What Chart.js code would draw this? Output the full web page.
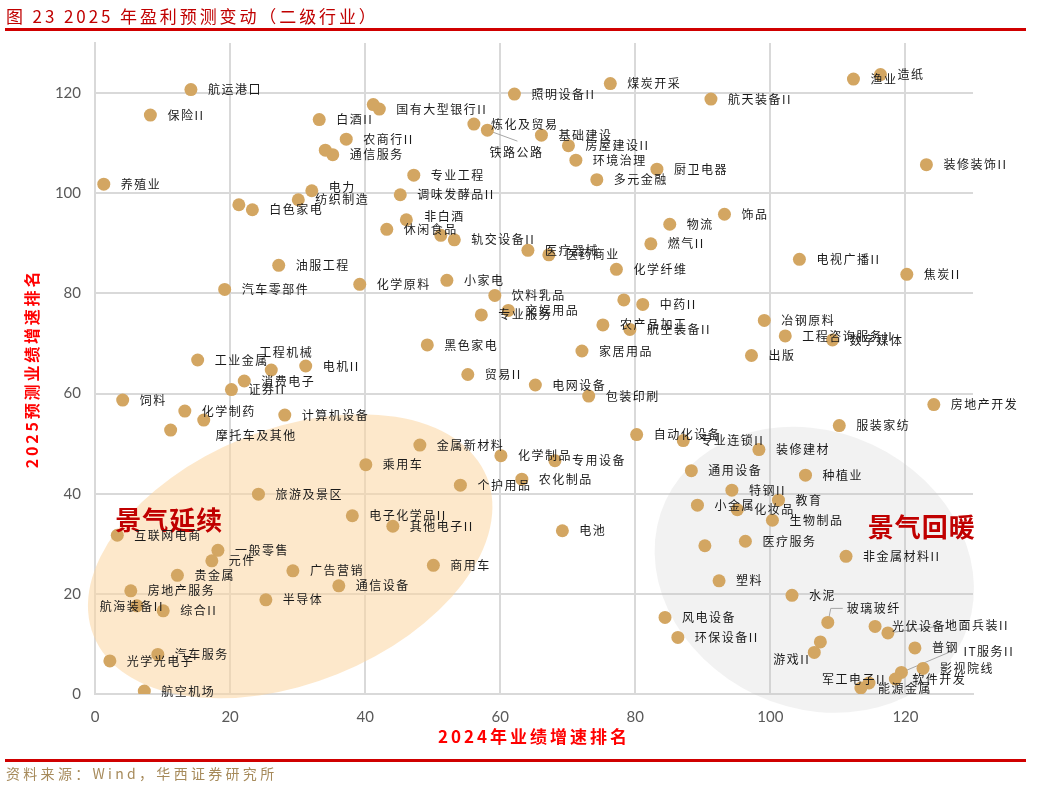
<!DOCTYPE html>
<html>
<head>
<meta charset="utf-8">
<script src="https://cdn.jsdelivr.net/npm/chart.js@4.4.1/dist/chart.umd.min.js"></script>
<style>
  html, body { margin: 0; padding: 0; background: #fff; }
  #wrap { position: relative; width: 1053px; height: 789px; overflow: hidden; }
  #grafico { position: absolute; left: 0; top: 0; }
  .titulo { position: absolute; left: 6px; top: 3px; font: 17px "Noto Sans CJK SC"; color: #c00000; letter-spacing: 2.9px; white-space: nowrap; }
  .linha { position: absolute; left: 5px; width: 1021px; height: 3px; background: #d00000; }
  .fonte { position: absolute; left: 6px; top: 763px; font: 14px "Noto Sans CJK SC"; color: #a68a5a; letter-spacing: 3.3px; white-space: nowrap; }
</style>
</head>
<body>
<div id="wrap">
  <canvas id="grafico" width="1053" height="789"></canvas>
  <div class="titulo">图 23 2025 年盈利预测变动（二级行业）</div>
  <div class="linha" style="top:28px"></div>
  <div class="linha" style="top:759px"></div>
  <div class="fonte">资料来源：Wind，华西证券研究所</div>
</div>
<script>
// nomes dos setores (vazio = ponto sem rotulo)
const industries = [
  "航运港口","保险II","养殖业","白酒II","国有大型银行II","","农商行II","通信服务","",
  "专业工程","电力","纺织制造","白色家电","","调味发酵品II","非白酒","休闲食品",
  "炼化及贸易","铁路公路","照明设备II","煤炭开采","航天装备II","渔业","造纸",
  "基础建设","房屋建设II","环境治理","厨卫电器","多元金融","装修装饰II",
  "饰品","物流","燃气II","医疗器械","医药商业","电视广播II","焦炭II","轨交设备II","",
  "油服工程","汽车零部件","化学原料","小家电","饮料乳品","专业服务","文娱用品",
  "化学纤维","","中药II","农产品加工","航空装备II","家居用品","冶钢原料",
  "工程咨询服务II","数字媒体","出版","黑色家电","工业金属","工程机械","电机II",
  "消费电子","证券II","贸易II","电网设备","包装印刷","饲料","化学制药","摩托车及其他","",
  "计算机设备","房地产开发","服装家纺","自动化设备","专业连锁II","装修建材",
  "金属新材料","乘用车","化学制品","专用设备","个护用品","农化制品","通用设备",
  "种植业","特钢II","教育","小金属","化妆品","生物制品","旅游及景区","电子化学品II",
  "其他电子II","电池","互联网电商","","医疗服务","非金属材料II","一般零售","元件",
  "广告营销","商用车","贵金属","通信设备","房地产服务","半导体","塑料","水泥",
  "航海装备II","综合II","风电设备","环保设备II","玻璃玻纤","","游戏II","光伏设备",
  "地面兵装II","普钢","IT服务II","影视院线","软件开发","军工电子II","能源金属",
  "光学光电子","汽车服务","航空机场"
];

// 2024年业绩增速排名
const rank2024 = [
  14.2, 8.2, 1.3, 33.2, 42.1, 41.2, 37.2, 35.2, 34.1,
  47.2, 32.1, 30.1, 23.3, 21.3, 45.2, 46.1, 43.2,
  56.1, 58.1, 62.1, 76.3, 91.2, 112.3, 116.3,
  66.1, 70.1, 71.2, 83.2, 74.3, 123.1,
  93.2, 85.1, 82.3, 64.1, 67.2, 104.3, 120.2, 53.2, 51.2,
  27.2, 19.2, 39.2, 52.1, 59.2, 57.2, 61.2,
  77.2, 78.3, 81.1, 75.2, 79.2, 72.1, 99.1,
  102.2, 109.2, 97.2, 49.2, 15.2, 26.1, 31.2,
  22.1, 20.2, 55.2, 65.2, 73.1, 4.1, 13.3, 16.1, 11.2,
  28.1, 124.2, 110.2, 80.2, 87.1, 98.3,
  48.1, 40.1, 60.1, 68.1, 54.1, 63.2, 88.3,
  105.2, 94.3, 101.2, 89.2, 95.1, 100.3, 24.2, 38.1,
  44.1, 69.2, 3.3, 90.3, 96.3, 111.2, 18.2, 17.3,
  29.3, 50.1, 12.2, 36.1, 5.3, 25.3, 92.4, 103.2,
  6.2, 10.1, 84.4, 86.3, 108.5, 107.4, 106.5, 115.5,
  117.4, 121.4, 119.4, 122.6, 118.5, 114.6, 113.4,
  2.2, 9.3, 7.3
];

// 2025预测业绩增速排名
const rank2025 = [
  120.7, 115.6, 101.8, 114.7, 116.8, 117.7, 110.8, 107.7, 108.6,
  103.6, 100.5, 98.7, 96.7, 97.7, 99.7, 94.7, 92.8,
  113.8, 112.6, 119.8, 121.9, 118.8, 122.8, 123.7,
  111.6, 109.5, 106.6, 104.8, 102.7, 105.7,
  95.8, 93.8, 89.9, 88.6, 87.7, 86.8, 83.8, 90.7, 91.6,
  85.6, 80.8, 81.8, 82.6, 79.6, 75.7, 76.6,
  84.8, 78.7, 77.8, 73.7, 72.8, 68.5, 74.6,
  71.5, 70.7, 67.6, 69.7, 66.7, 64.7, 65.5,
  62.5, 60.8, 63.8, 61.7, 59.5, 58.7, 56.5, 54.7, 52.7,
  55.7, 57.8, 53.6, 51.8, 50.6, 48.8,
  49.7, 45.8, 47.6, 46.6, 41.7, 42.9, 44.6,
  43.7, 40.7, 38.7, 37.7, 36.8, 34.7, 39.9, 35.6,
  33.5, 32.6, 31.7, 29.6, 30.5, 27.5, 28.7, 26.6,
  24.6, 25.7, 23.7, 21.6, 20.6, 18.8, 22.6, 19.7,
  17.6, 16.6, 15.3, 11.3, 14.3, 10.4, 8.3, 13.5,
  12.2, 9.2, 4.3, 5.1, 3.0, 2.2, 1.2,
  6.6, 7.9, 0.6
];

const xTicks = [0, 20, 40, 60, 80, 100, 120];
const yTicks = [0, 20, 40, 60, 80, 100, 120];

// rotulos fora do padrao (deslocamento em px a partir do ponto)
const ajustes = {
  "铁路公路": { dx: 2, dy: 22, guia: [[30, 11]] },
  "工程机械": { dx: -12, dy: -18 },
  "摩托车及其他": { dx: 12, dy: 15 },
  "玻璃玻纤": { dx: 19, dy: -14, guia: [[1, -4], [3, -14], [15, -14]] },
  "地面兵装II": { dx: 57, dy: -7, guia: [[55, -7]] },
  "IT服务II": { dx: 62, dy: -21, guia: [[52, -22]] },
  "军工电子II": { dx: -47, dy: -4 },
  "游戏II": { dx: -41, dy: 7 },
  "航海装备II": { dx: -37, dy: 1 },
  "非白酒": { dx: 18, dy: -3 },
  "电力": { dx: 17, dy: -3 }
};

// areas destacadas
const zonas = [
  { cx: 28.9, cy: 27.5, rx: 212, ry: 127, rot: -22, cor: "rgba(251,214,160,0.55)" },
  { cx: 106.5, cy: 24.8, rx: 164, ry: 138, rot: 25, cor: "rgba(200,200,200,0.23)" }
];

const textosZona = [
  { texto: "景气延续", x: 3.0, y: 34.7 },
  { texto: "景气回暖", x: 114.4, y: 33.3 }
];

const fonteCJK = '"Noto Sans CJK SC"';

const pontos = rank2024.map((x, i) => ({ x: x, y: rank2025[i] }));

const pluginZonas = {
  id: "zonas",
  beforeDatasetsDraw(chart){
    const { ctx, scales } = chart;
    ctx.save();
    zonas.forEach(z => {
      ctx.beginPath();
      ctx.ellipse(scales.x.getPixelForValue(z.cx), scales.y.getPixelForValue(z.cy),
        z.rx, z.ry, z.rot * Math.PI / 180, 0, Math.PI * 2);
      ctx.fillStyle = z.cor;
      ctx.fill();
    });

    // linhas guia dos rotulos
    const meta = chart.getDatasetMeta(0);
    ctx.strokeStyle = "#a6a6a6";
    ctx.lineWidth = 1;
    meta.data.forEach((pt, i) => {
      const aj = ajustes[industries[i]];
      if(!aj || !aj.guia) return;
      ctx.beginPath();
      ctx.moveTo(pt.x, pt.y);
      aj.guia.forEach(p => ctx.lineTo(pt.x + p[0], pt.y + p[1]));
      ctx.stroke();
    });
    ctx.restore();
  }
};

const pluginRotulos = {
  id: "rotulos",
  afterDatasetsDraw(chart){
    const { ctx, scales, chartArea } = chart;
    ctx.save();

    ctx.font = "bold 26px " + fonteCJK;
    ctx.fillStyle = "#c00000";
    ctx.textBaseline = "middle";
    ctx.textAlign = "left";
    ctx.letterSpacing = "1px";
    textosZona.forEach(t => {
      ctx.fillText(t.texto, scales.x.getPixelForValue(t.x), scales.y.getPixelForValue(t.y));
    });

    ctx.font = "12px " + fonteCJK;
    ctx.fillStyle = "#1a1a1a";
    ctx.letterSpacing = "1.5px";
    const meta = chart.getDatasetMeta(0);
    meta.data.forEach((pt, i) => {
      const nome = industries[i];
      if(!nome) return;
      const aj = ajustes[nome] || {};
      const dx = aj.dx !== undefined ? aj.dx : 17;
      const dy = aj.dy !== undefined ? aj.dy : 0;
      ctx.fillText(nome, pt.x + dx, pt.y + dy);
    });

    // titulos dos eixos
    ctx.fillStyle = "#ff0000";
    ctx.textAlign = "center";
    ctx.font = "bold 17px " + fonteCJK;
    ctx.letterSpacing = "3px";
    ctx.fillText("2024年业绩增速排名", (chartArea.left + chartArea.right) / 2, 737);

    ctx.translate(32, (chartArea.top + chartArea.bottom) / 2);
    ctx.rotate(-Math.PI / 2);
    ctx.font = "bold 16px " + fonteCJK;
    ctx.letterSpacing = "2.8px";
    ctx.fillText("2025预测业绩增速排名", 0, 0);

    ctx.restore();
  }
};

function eixo(lista, ajusteTamanho){
  return {
    type: "linear",
    min: 0,
    max: 130,
    afterBuildTicks: s => { s.ticks = lista.map(v => ({ value: v })); },
    afterFit: ajusteTamanho,
    ticks: {
      color: "#595959",
      font: { family: "Lato", size: 15 },
      padding: 14
    },
    grid: { color: "#d9d9d9", lineWidth: 2, drawTicks: false },
    border: { color: "#d9d9d9", width: 2 }
  };
}

const ctx = document.getElementById("grafico");

new Chart(ctx, {
  type: "scatter",
  data: {
    datasets: [{
      data: pontos,
      backgroundColor: "#d3a662",
      borderWidth: 0,
      pointRadius: 6.5,
      pointHoverRadius: 6.5
    }]
  },
  options: {
    responsive: false,
    animation: false,
    layout: { padding: { left: 0, top: 43, right: 80, bottom: 35 } },
    plugins: {
      legend: { display: false },
      tooltip: { enabled: false }
    },
    scales: {
      x: eixo(xTicks, s => { s.height = 60; }),
      y: eixo(yTicks, s => { s.width = 95; })
    }
  },
  plugins: [pluginZonas, pluginRotulos]
});
</script>
</body>
</html>
